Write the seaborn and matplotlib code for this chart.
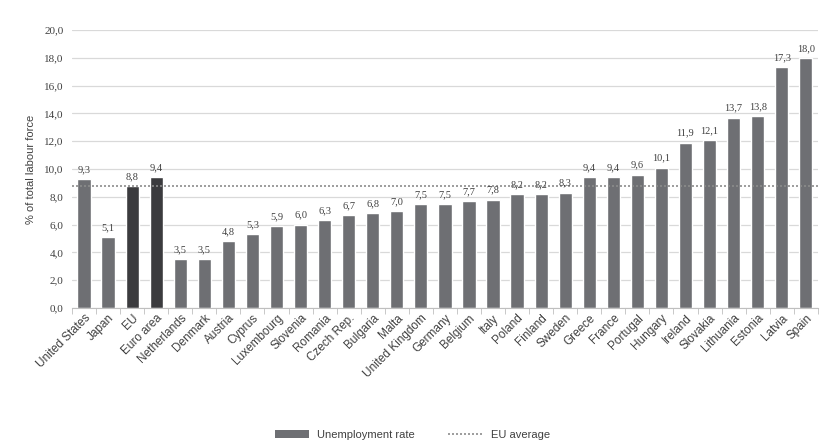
import matplotlib
matplotlib.use("Agg")
import matplotlib.pyplot as plt
from matplotlib.patches import Patch
from matplotlib.lines import Line2D
from matplotlib.ticker import FixedLocator, FuncFormatter
import seaborn as sns
import pandas as pd
import numpy as np

countries = [
    "United States", "Japan", "EU", "Euro area", "Netherlands", "Denmark",
    "Austria", "Cyprus", "Luxembourg", "Slovenia", "Romania", "Czech Rep.",
    "Bulgaria", "Malta", "United Kingdom", "Germany", "Belgium", "Italy",
    "Poland", "Finland", "Sweden", "Greece", "France", "Portugal", "Hungary",
    "Ireland", "Slovakia", "Lithuania", "Estonia", "Latvia", "Spain",
]
unemployment = [
    9.3, 5.1, 8.8, 9.4, 3.5, 3.5,
    4.8, 5.3, 5.9, 6.0, 6.3, 6.7,
    6.8, 7.0, 7.5, 7.5, 7.7, 7.8,
    8.2, 8.2, 8.3, 9.4, 9.4, 9.6, 10.1,
    11.9, 12.1, 13.7, 13.8, 17.3, 18.0,
]
aggregates = ["EU", "Euro area"]
eu_average = 8.8

bar_grey = "#6e6f73"
bar_dark = "#3b3b3e"

df = pd.DataFrame({"country": countries, "rate": unemployment})
df["group"] = np.where(df["country"].isin(aggregates), "agg", "country")

sns.set_style("white")
plt.rcParams["font.family"] = ["Liberation Sans", "DejaVu Sans"]

fig = plt.figure(figsize=(8.25, 4.47), dpi=100)
ax = fig.add_axes([0.0873, 0.311, 0.904, 0.622])

sns.barplot(data=df, x="country", y="rate", hue="group",
            palette={"country": bar_grey, "agg": bar_dark},
            dodge=False, width=0.55, legend=False, ax=ax, saturation=1)

ax.set_ylim(0, 20)
ax.set_xlim(-0.5, len(countries) - 0.5)
ax.yaxis.set_major_locator(FixedLocator(np.arange(0, 20.1, 2)))
ax.yaxis.set_major_formatter(FuncFormatter(lambda v, p: f"{v:.1f}".replace(".", ",")))
ax.grid(axis="y", color="#d9d9d9", linewidth=0.9)
ax.set_axisbelow(True)
for side in ["top", "right", "left"]:
    ax.spines[side].set_visible(False)
ax.spines["bottom"].set_color("#bfbfbf")

for lbl in ax.get_yticklabels():
    lbl.set_fontfamily("Liberation Serif")
    lbl.set_fontsize(8)
    lbl.set_color("#404040")
ax.tick_params(axis="y", length=0, pad=6)

# category separator ticks along the baseline
ax.set_xticks(np.arange(len(countries)))
ax.set_xticks(np.arange(-0.5, len(countries)), minor=True)
ax.tick_params(axis="x", which="major", length=0, pad=3)
ax.tick_params(axis="x", which="minor", length=4, color="#bfbfbf", bottom=True)
ax.set_xticklabels(countries, rotation=45, ha="right", rotation_mode="anchor",
                   fontsize=8.5, color="#404040")

ax.set_xlabel("")
ax.set_ylabel("% of total labour force", fontsize=8, color="#404040", labelpad=6)

# EU average reference line
ax.axhline(eu_average, color="#8c8c8c", linestyle=(0, (1.2, 1.2)), linewidth=1.2, zorder=3)

# value labels above bars
for i, v in enumerate(unemployment):
    ax.text(i, v + 0.35, f"{v:.1f}".replace(".", ","), ha="center", va="bottom",
            fontsize=7.5, fontfamily="Liberation Serif", color="#404040")

handles = [
    Patch(facecolor=bar_grey, edgecolor="none", label="Unemployment rate"),
    Line2D([0], [0], color="#8c8c8c", linestyle=(0, (1.2, 1.2)), linewidth=1.2,
           label="EU average"),
]
fig.legend(handles=handles, loc="center", bbox_to_anchor=(0.5, 0.027), ncol=2,
           frameon=False, fontsize=8, handlelength=3, columnspacing=3,
           handleheight=0.6, labelcolor="#404040")

fig.savefig("out.png", dpi=100)
